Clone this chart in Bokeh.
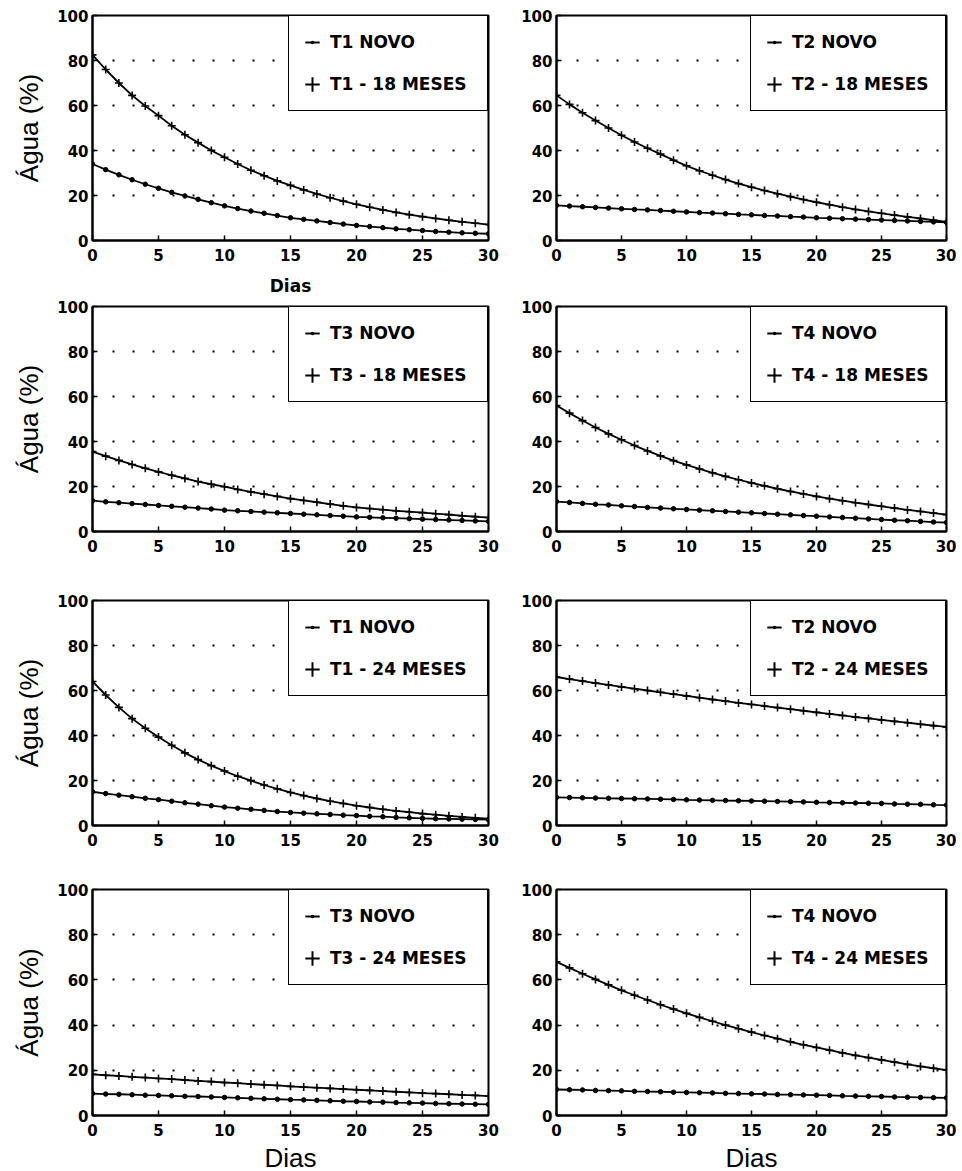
from bokeh.plotting import figure
from bokeh.layouts import gridplot
from bokeh.models import ColumnDataSource, Legend, LegendItem, FixedTicker, Range1d
from bokeh.embed import file_html
from bokeh.resources import INLINE

dias = list(range(31))

# Panel data (Água %, days 0..30)
t1_novo_a = [34.0, 31.5, 29.2, 27.0, 25.0, 23.2, 21.4, 19.8, 18.3, 16.8, 15.4, 14.2, 13.1, 12.1, 11.1, 10.1,
             9.4, 8.7, 8.0, 7.3, 6.7, 6.2, 5.7, 5.2, 4.8, 4.4, 4.0, 3.7, 3.4, 3.2, 3.0]
t1_18m = [82.5, 76.0, 70.0, 64.5, 59.8, 55.5, 51.0, 47.0, 43.5, 40.0, 37.0, 34.0, 31.2, 28.8, 26.5, 24.5,
          22.5, 20.7, 19.0, 17.5, 16.1, 14.8, 13.6, 12.5, 11.5, 10.6, 9.8, 9.0, 8.3, 7.7, 7.1]
t2_novo_a = [15.6, 15.3, 15.0, 14.7, 14.4, 14.1, 13.8, 13.6, 13.3, 13.0, 12.7, 12.4, 12.2, 11.9, 11.6, 11.4,
             11.1, 10.9, 10.6, 10.4, 10.1, 9.9, 9.7, 9.5, 9.3, 9.1, 8.9, 8.7, 8.5, 8.3, 8.1]
t2_18m = [64.5, 60.5, 56.8, 53.3, 50.0, 46.8, 43.8, 41.0, 38.4, 35.7, 33.2, 31.0, 29.0, 27.1, 25.3, 23.7,
          22.2, 20.8, 19.5, 18.2, 17.0, 15.9, 14.8, 13.8, 12.9, 12.1, 11.3, 10.5, 9.8, 9.0, 8.3]
t3_novo_a = [13.7, 13.2, 12.8, 12.4, 12.0, 11.6, 11.2, 10.8, 10.4, 10.0, 9.5, 9.2, 8.9, 8.6, 8.3, 8.0,
             7.7, 7.4, 7.1, 6.8, 6.5, 6.3, 6.1, 5.9, 5.7, 5.5, 5.3, 5.1, 4.9, 4.7, 4.5]
t3_18m = [35.5, 33.5, 31.6, 29.8, 28.1, 26.5, 25.0, 23.6, 22.2, 21.0, 19.9, 18.7, 17.6, 16.6, 15.6, 14.6,
          13.8, 13.0, 12.2, 11.4, 10.7, 10.2, 9.7, 9.2, 8.8, 8.4, 7.9, 7.5, 7.0, 6.6, 6.2]
t4_novo_a = [13.3, 12.9, 12.5, 12.1, 11.8, 11.4, 11.1, 10.7, 10.4, 10.1, 9.8, 9.5, 9.2, 8.9, 8.6, 8.3,
             8.0, 7.7, 7.4, 7.1, 6.8, 6.5, 6.2, 5.9, 5.6, 5.3, 5.0, 4.8, 4.5, 4.2, 4.0]
t4_18m = [56.0, 52.6, 49.3, 46.2, 43.4, 40.8, 38.2, 35.8, 33.6, 31.5, 29.6, 27.8, 26.1, 24.5, 23.0, 21.6,
          20.3, 19.0, 17.8, 16.7, 15.6, 14.6, 13.7, 12.8, 12.0, 11.2, 10.4, 9.6, 8.9, 8.2, 7.5]
t1_novo_b = [15.0, 14.2, 13.5, 12.8, 12.1, 11.5, 10.8, 10.1, 9.5, 8.8, 8.2, 7.7, 7.2, 6.7, 6.2, 5.8,
             5.5, 5.2, 4.9, 4.6, 4.4, 4.1, 3.9, 3.6, 3.4, 3.2, 3.0, 2.9, 2.8, 2.7, 2.6]
t1_24m = [64.0, 58.0, 52.5, 47.5, 43.2, 39.3, 35.7, 32.3, 29.3, 26.6, 24.2, 21.9, 19.9, 18.0, 16.3, 14.7,
          13.3, 12.0, 10.8, 9.8, 8.8, 8.0, 7.2, 6.5, 5.9, 5.3, 4.8, 4.3, 3.8, 3.4, 3.0]
t2_novo_b = [12.5, 12.4, 12.3, 12.2, 12.1, 12.0, 11.9, 11.8, 11.7, 11.6, 11.4, 11.3, 11.2, 11.1, 11.0, 10.9,
             10.8, 10.7, 10.6, 10.5, 10.3, 10.2, 10.1, 10.0, 9.9, 9.8, 9.6, 9.5, 9.4, 9.2, 9.1]
t2_24m = [66.0, 65.1, 64.2, 63.3, 62.5, 61.6, 60.8, 60.0, 59.2, 58.4, 57.6, 56.8, 56.0, 55.3, 54.5, 53.8,
          53.1, 52.4, 51.7, 51.0, 50.3, 49.6, 48.9, 48.2, 47.6, 46.9, 46.3, 45.7, 45.0, 44.4, 43.8]
t3_novo_b = [9.7, 9.5, 9.4, 9.2, 9.0, 8.9, 8.7, 8.5, 8.4, 8.2, 8.0, 7.8, 7.6, 7.4, 7.2, 7.0,
             6.9, 6.7, 6.5, 6.3, 6.2, 6.0, 5.9, 5.7, 5.6, 5.5, 5.3, 5.2, 5.1, 5.0, 4.9]
t3_24m = [18.2, 17.8, 17.5, 17.1, 16.8, 16.4, 16.1, 15.7, 15.3, 15.0, 14.6, 14.3, 13.9, 13.6, 13.3, 12.9,
          12.6, 12.3, 12.0, 11.7, 11.4, 11.1, 10.8, 10.5, 10.2, 9.9, 9.7, 9.4, 9.1, 8.9, 8.6]
t4_novo_b = [11.5, 11.4, 11.3, 11.1, 11.0, 10.9, 10.7, 10.6, 10.5, 10.3, 10.2, 10.1, 10.0, 9.8, 9.7, 9.6,
             9.5, 9.3, 9.2, 9.1, 9.0, 8.9, 8.7, 8.6, 8.5, 8.4, 8.2, 8.1, 8.0, 7.9, 7.8]
t4_24m = [68.0, 65.3, 62.7, 60.2, 57.8, 55.4, 53.2, 51.1, 49.0, 47.1, 45.2, 43.4, 41.7, 40.0, 38.4, 36.9,
          35.4, 34.0, 32.6, 31.3, 30.1, 28.9, 27.7, 26.6, 25.6, 24.6, 23.6, 22.6, 21.7, 20.9, 20.1]

novo_labels = ["T1 NOVO", "T2 NOVO", "T3 NOVO", "T4 NOVO", "T1 NOVO", "T2 NOVO", "T3 NOVO", "T4 NOVO"]
meses_labels = ["T1 - 18 MESES", "T2 - 18 MESES", "T3 - 18 MESES", "T4 - 18 MESES",
                "T1 - 24 MESES", "T2 - 24 MESES", "T3 - 24 MESES", "T4 - 24 MESES"]
novo_series = [t1_novo_a, t2_novo_a, t3_novo_a, t4_novo_a, t1_novo_b, t2_novo_b, t3_novo_b, t4_novo_b]
meses_series = [t1_18m, t2_18m, t3_18m, t4_18m, t1_24m, t2_24m, t3_24m, t4_24m]

x_ticks = [0, 5, 10, 15, 20, 25, 30]
y_ticks = [0, 20, 40, 60, 80, 100]
grid_ticks = [20, 40, 60, 80]

FRAME_H = [225, 225, 225, 226]
MB_TOP = [15, 8, 8, 8]
MB_BOTTOM = [56, 61, 56, 40]
NAN = float("nan")


def make_panel(i):
    row, col = divmod(i, 2)
    left = col == 0
    p = figure(frame_width=396 if left else 390, frame_height=FRAME_H[row],
               x_range=Range1d(0, 30), y_range=Range1d(0, 100),
               output_backend="svg", toolbar_location=None,
               min_border_left=92 if left else 48, min_border_right=20 if left else 10,
               min_border_top=MB_TOP[row], min_border_bottom=MB_BOTTOM[row],
               background_fill_color="white", border_fill_color="white")
    p.xaxis.ticker = FixedTicker(ticks=x_ticks)
    p.yaxis.ticker = FixedTicker(ticks=y_ticks)
    for ax in (p.xaxis[0], p.yaxis[0]):
        ax.major_label_text_font = "DejaVu Sans"
        ax.major_label_text_font_style = "bold"
        ax.major_label_text_font_size = "15px"
        ax.major_label_text_color = "black"
        ax.axis_label_text_color = "black"
        ax.major_tick_in = 5
        ax.major_tick_out = 0
        ax.major_tick_line_width = 1.5
        ax.major_tick_line_color = "black"
        ax.minor_tick_line_color = None
        ax.axis_line_width = 2
        ax.axis_line_color = "black"
    p.yaxis.major_label_standoff = 4
    p.xaxis.major_label_standoff = 8
    p.xgrid.visible = False
    p.ygrid.ticker = FixedTicker(ticks=grid_ticks)
    p.ygrid.grid_line_color = "black"
    p.ygrid.grid_line_dash = "2 18"
    p.ygrid.grid_line_width = 2
    p.outline_line_color = "black"
    p.outline_line_width = 2
    p.outline_line_alpha = 1

    if left:
        p.yaxis.axis_label = "Água (%)"
        p.yaxis.axis_label_text_font = "Liberation Sans"
        p.yaxis.axis_label_text_font_style = "normal"
        p.yaxis.axis_label_text_font_size = "26px"
        p.yaxis.axis_label_standoff = 10
    if i == 0:
        p.xaxis.axis_label = "Dias"
        p.xaxis.axis_label_text_font = "DejaVu Sans"
        p.xaxis.axis_label_text_font_style = "bold"
        p.xaxis.axis_label_text_font_size = "17px"
        p.xaxis.axis_label_standoff = 12
    if row == 3:
        p.xaxis.axis_label = "Dias"
        p.xaxis.axis_label_text_font = "Liberation Sans"
        p.xaxis.axis_label_text_font_style = "normal"
        p.xaxis.axis_label_text_font_size = "26px"
        p.xaxis.axis_label_standoff = 4

    src = ColumnDataSource(dict(x=dias, novo=novo_series[i], meses=meses_series[i]))
    p.line("x", "meses", source=src, line_color="black", line_width=1.8)
    p.scatter("x", "meses", source=src, marker="cross", size=8, line_color="black", line_width=1.6)
    p.line("x", "novo", source=src, line_color="black", line_width=1.8)
    p.scatter("x", "novo", source=src, marker="circle", size=4.5, fill_color="black", line_color="black")

    # legend keys (not plotted data)
    key_src = ColumnDataSource(dict(x=[NAN], y=[NAN]))
    k_dash = p.scatter("x", "y", source=key_src, marker="dash", line_color="black", line_width=2)
    k_dot = p.scatter("x", "y", source=key_src, marker="dot", line_color="black", fill_color="black",
                      line_width=2)
    k_cross = p.scatter("x", "y", source=key_src, marker="cross", line_color="black", line_width=2)

    leg = Legend(items=[LegendItem(label=novo_labels[i], renderers=[k_dash, k_dot]),
                        LegendItem(label=meses_labels[i], renderers=[k_cross])],
                 location="top_right", margin=0, padding=5, spacing=0,
                 glyph_width=36, glyph_height=42, label_standoff=0,
                 label_width=152 if left else 148, label_height=20,
                 border_line_color="black", border_line_width=1.5, border_line_alpha=1,
                 background_fill_color="white", background_fill_alpha=1,
                 label_text_font="DejaVu Sans", label_text_font_style="bold",
                 label_text_font_size="17px", label_text_color="black")
    p.add_layout(leg)
    return p


panels = [make_panel(i) for i in range(8)]
grid = gridplot([panels[0:2], panels[2:4], panels[4:6], panels[6:8]], toolbar_location=None)

open("out.html", "w").write(file_html(grid, INLINE))
